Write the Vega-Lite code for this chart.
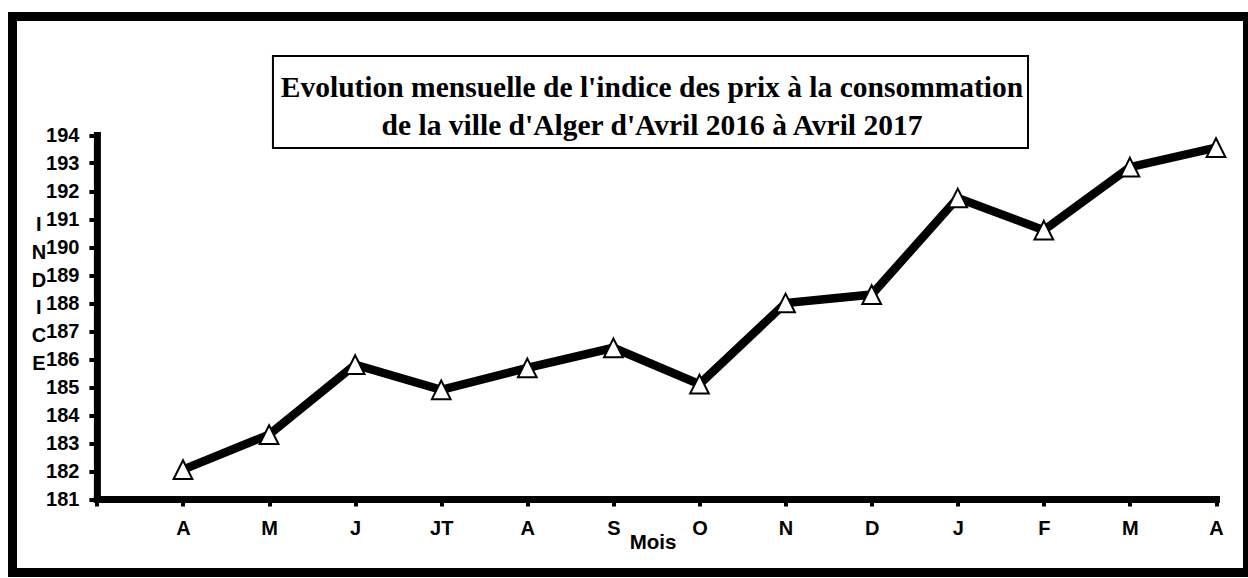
{
  "$schema": "https://vega.github.io/schema/vega-lite/v6.json",
  "width": 1235,
  "height": 556,
  "autosize": "none",
  "padding": {"left": 12.5, "top": 16.5, "right": 0.5, "bottom": 5.5},
  "background": "white",
  "config": {
    "view": {"stroke": "black", "strokeWidth": 9, "fill": "white"},
    "font": "Liberation Sans"
  },
  "title": {
    "text": ["Evolution mensuelle de l'indice des prix à la consommation", "de la ville d'Alger d'Avril 2016 à Avril 2017"],
    "font": "Liberation Serif",
    "fontSize": 29.5,
    "fontWeight": "bold",
    "color": "black",
    "lineHeight": 38,
    "anchor": "middle",
    "frame": "group",
    "dx": 22,
    "dy": 129
  },
  "layer": [
    {
      "data": {"values": [{"box": "titre"}]},
      "mark": {"type": "rect", "fill": "white", "stroke": "black", "strokeWidth": 2},
      "encoding": {
        "x": {"datum": 2.045, "type": "quantitative", "scale": {"domain": [0, 13], "range": [84.4, 1203.5], "nice": false, "zero": false}},
        "x2": {"datum": 10.816},
        "y": {"datum": 196.82, "type": "quantitative", "scale": {"domain": [181, 194], "range": [482.5, 118.5], "nice": false, "zero": false}},
        "y2": {"datum": 193.536}
      }
    },
    {
      "data": {"name": "ipc", "values": [
        {"idx": 1, "mois": "A", "indice": 182.05},
        {"idx": 2, "mois": "M", "indice": 183.3},
        {"idx": 3, "mois": "J", "indice": 185.8},
        {"idx": 4, "mois": "JT", "indice": 184.9},
        {"idx": 5, "mois": "A", "indice": 185.68},
        {"idx": 6, "mois": "S", "indice": 186.4},
        {"idx": 7, "mois": "O", "indice": 185.1},
        {"idx": 8, "mois": "N", "indice": 188.0},
        {"idx": 9, "mois": "D", "indice": 188.3},
        {"idx": 10, "mois": "J", "indice": 191.75},
        {"idx": 11, "mois": "F", "indice": 190.6},
        {"idx": 12, "mois": "M", "indice": 192.85},
        {"idx": 13, "mois": "A", "indice": 193.55}
      ]},
      "layer": [
        {
          "mark": {"type": "line", "color": "black", "strokeWidth": 8.5},
          "encoding": {
            "x": {
              "field": "idx", "type": "quantitative",
              "scale": {"domain": [0, 13], "range": [84.4, 1203.5], "nice": false, "zero": false},
              "axis": {
                "title": "Mois",
                "values": [0, 1, 2, 3, 4, 5, 6, 7, 8, 9, 10, 11, 12, 13],
                "labelExpr": "['','A','M','J','JT','A','S','O','N','D','J','F','M','A'][datum.value]",
                "offset": -73.5,
                "grid": false,
                "domainColor": "black", "domainWidth": 7, "domainCap": "square",
                "tickColor": "black", "tickWidth": 4, "tickSize": 7,
                "labelFont": "Liberation Sans", "labelFontSize": 20, "labelFontWeight": "bold", "labelColor": "black",
                "labelPadding": 12, "labelFlush": false, "labelOverlap": false,
                "titleFont": "Liberation Sans", "titleFontSize": 20.5, "titleFontWeight": "bold", "titleColor": "black",
                "titleX": 640, "titleY": 49, "titleAlign": "center", "titleBaseline": "alphabetic"
              }
            },
            "y": {
              "field": "indice", "type": "quantitative",
              "scale": {"domain": [181, 194], "range": [482.5, 118.5], "nice": false, "zero": false},
              "axis": {
                "title": ["I", "N", "D", "I", "C", "E"],
                "values": [181, 182, 183, 184, 185, 186, 187, 188, 189, 190, 191, 192, 193, 194],
                "offset": -84.4,
                "grid": false,
                "domainColor": "black", "domainWidth": 7, "domainCap": "square",
                "tickColor": "black", "tickWidth": 4, "tickSize": 8,
                "labelFont": "Liberation Sans", "labelFontSize": 20, "labelFontWeight": "bold", "labelColor": "black",
                "labelPadding": 10, "labelFlush": false, "labelOverlap": false,
                "titleFont": "Liberation Sans", "titleFontSize": 20, "titleFontWeight": "bold", "titleColor": "black",
                "titleAngle": 0, "titleX": -58.5, "titleY": 198, "titleAlign": "center", "titleBaseline": "top",
                "titleLineHeight": 27.8
              }
            }
          }
        },
        {
          "mark": {"type": "point", "shape": "M0,-1L1,1L-1,1Z", "size": 350, "filled": true, "fill": "white", "stroke": "black", "strokeWidth": 2, "opacity": 1},
          "encoding": {
            "x": {"field": "idx", "type": "quantitative"},
            "y": {"field": "indice", "type": "quantitative"}
          }
        }
      ]
    }
  ]
}
